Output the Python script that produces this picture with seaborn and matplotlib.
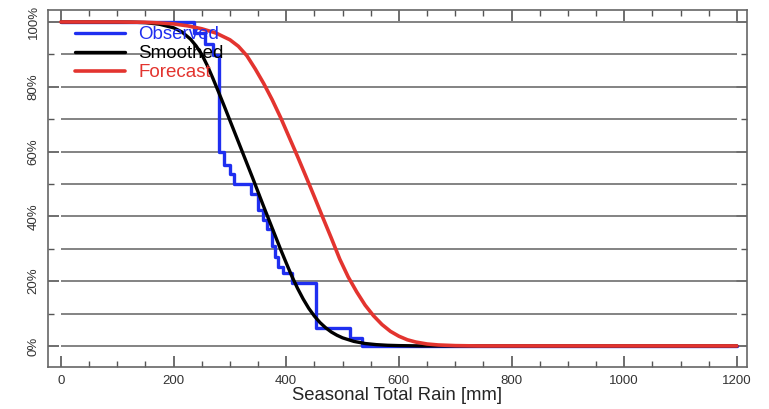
import matplotlib
matplotlib.use("Agg")
import matplotlib.pyplot as plt
import seaborn as sns
import pandas as pd
from matplotlib.ticker import MultipleLocator, FuncFormatter

# Observed exceedance probability (step function)
obs_rain = [0, 236, 256, 270, 280, 290, 300, 307, 337, 350, 358, 366, 374,
            380, 386, 395, 410, 452, 513, 534, 1200]
obs_prob = [100, 96.6, 93.1, 89.7, 60, 56, 53, 50, 47, 42, 39, 36, 31,
            27.6, 24.5, 22.4, 19.5, 5.5, 2.4, 0, 0]

# Smoothed fit
smooth_rain = [0, 100, 125, 150, 175, 200, 215, 230, 240, 250, 260, 270, 280,
               290, 300, 310, 320, 330, 340, 350, 360, 370, 380, 390, 400,
               410, 420, 430, 440, 450, 460, 470, 480, 490, 500, 520, 540,
               560, 580, 600, 640, 1200]
smooth_prob = [100, 100, 99.95, 99.8, 99.3, 98.2, 96.9, 94.7, 92.6, 90, 86.5,
               82.5, 78.3, 74, 69.6, 65.2, 60.8, 56.4, 52, 47.5, 43, 38.6,
               34.2, 29.8, 25.6, 21.5, 17.8, 14.5, 11.6, 9.2, 7.2, 5.6, 4.3,
               3.3, 2.5, 1.4, 0.75, 0.4, 0.2, 0.1, 0, 0]

# Forecast
fcst_rain = [0, 100, 150, 175, 200, 225, 250, 275, 300, 315, 330, 345, 360,
             375, 390, 405, 420, 435, 450, 465, 480, 495, 510, 525, 540, 555,
             570, 585, 600, 615, 630, 650, 670, 700, 740, 1200]
fcst_prob = [100, 100, 99.9, 99.7, 99.4, 98.8, 97.9, 96.6, 94.5, 92.5, 89.6,
             85.5, 81, 76, 70.5, 64.5, 58.5, 52.3, 46, 39.6, 33.3, 26.8, 21.3,
             16.7, 12.6, 9.3, 6.6, 4.5, 3, 1.9, 1.2, 0.6, 0.3, 0.1, 0, 0]

sns.set_style("ticks")
plt.rcParams['font.family'] = ['Liberation Sans', 'DejaVu Sans']

fig = plt.figure(figsize=(7.69, 4.09), dpi=100)
ax = fig.add_axes([0.0624, 0.1027, 0.9090, 0.8729])

# horizontal grid lines every 10 %
ax.hlines(range(0, 101, 10), 0, 1200, color='#7a7a7a', lw=1.3, zorder=1)

df_obs = pd.DataFrame({'rain': obs_rain, 'prob': obs_prob})
df_sm = pd.DataFrame({'rain': smooth_rain, 'prob': smooth_prob})
df_fc = pd.DataFrame({'rain': fcst_rain, 'prob': fcst_prob})

sns.lineplot(data=df_obs, x='rain', y='prob', color='#1f2ff0', lw=2.4,
             drawstyle='steps-post', label='Observed', ax=ax, zorder=2)
sns.lineplot(data=df_sm, x='rain', y='prob', color='black', lw=2.4,
             label='Smoothed', ax=ax, zorder=3)
sns.lineplot(data=df_fc, x='rain', y='prob', color='#e3342f', lw=2.6,
             label='Forecast', ax=ax, zorder=4)

ax.legend(loc='upper left', bbox_to_anchor=(0.0386, 0.955), frameon=False,
          labelcolor='linecolor', fontsize=13.5, handlelength=2.67,
          handletextpad=0.7, labelspacing=0.1, borderaxespad=0,
          borderpad=0)

ax.set_xlim(-23, 1218)
ax.set_ylim(-6.5, 103.7)
ax.xaxis.set_major_locator(MultipleLocator(200))
ax.xaxis.set_minor_locator(MultipleLocator(50))
ax.yaxis.set_major_locator(MultipleLocator(20))
ax.yaxis.set_minor_locator(MultipleLocator(10))
ax.yaxis.set_major_formatter(FuncFormatter(lambda v, p: f"{int(v)}%"))
ax.tick_params(which='both', direction='in', top=True, right=True,
               color='#555555', labelsize=9.5, labelcolor='#333333')
ax.tick_params(which='major', length=8, width=1.2)
ax.tick_params(which='minor', length=4, width=1)
ax.tick_params(axis='x', pad=6)
ax.tick_params(axis='y', pad=6)
for lab in ax.get_yticklabels():
    lab.set_rotation(90)
    lab.set_va('center')
ax.set_xlabel('Seasonal Total Rain [mm]', fontsize=13.3, labelpad=0)
ax.set_ylabel('')
for s in ax.spines.values():
    s.set_color('#666666')
    s.set_linewidth(1.2)

fig.savefig('out.png', dpi=100)
